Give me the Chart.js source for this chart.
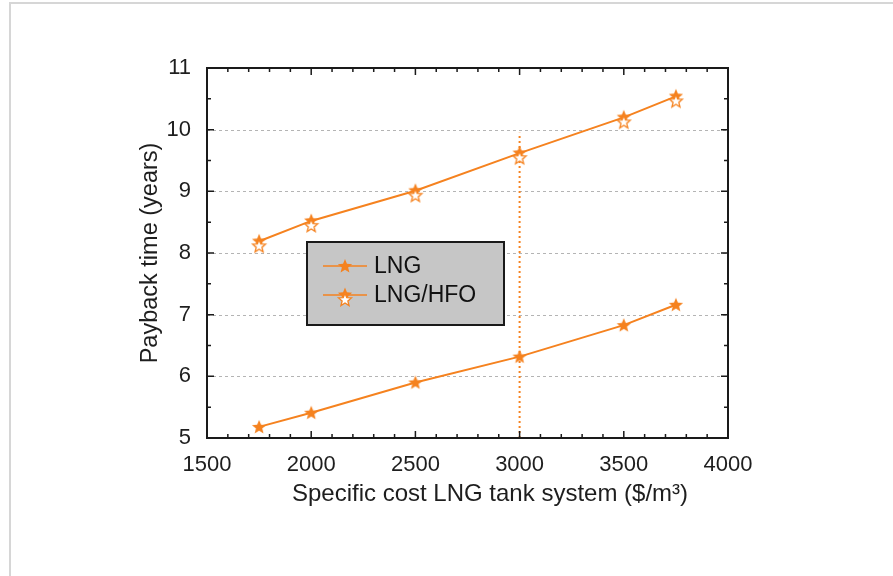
<!DOCTYPE html>
<html>
<head>
<meta charset="utf-8">
<title>Payback time vs. LNG tank system cost</title>
<script src="https://cdn.jsdelivr.net/npm/chart.js@4.4.1/dist/chart.umd.min.js"></script>
<style>
  html, body { margin: 0; padding: 0; background: #fff; overflow: hidden; }
  #frame { position: absolute; left: 9px; top: 2px; width: 900px; height: 600px;
           border-top: 2px solid #d6d6d6; border-left: 2px solid #d6d6d6; }
  #wrap { position: absolute; left: 0; top: 0; width: 893px; height: 576px; }
</style>
</head>
<body>
<div id="frame"></div>
<div id="wrap"><canvas id="c" width="893" height="576"></canvas></div>
<script>
// Specific cost of the LNG tank system ($/m3)
const costs = [1750, 2000, 2500, 3000, 3500, 3750];
// Payback time (years)
const paybackLNG = [5.18, 5.41, 5.90, 6.32, 6.83, 7.16];
const paybackLNGHFO = [8.19, 8.52, 9.01, 9.62, 10.20, 10.54];
// Reference cost marker (vertical dotted line)
const refCost = [3000, 3000];
const refPayback = [5, 9.95];
// Axis ticks
const xTicks = [1500, 2000, 2500, 3000, 3500, 4000];
const yTicks = [5, 6, 7, 8, 9, 10, 11];
const seriesNames = ['LNG', 'LNG/HFO'];

const ORANGE = '#f5821f';
const FONT = '"Liberation Sans", Arial, Helvetica, sans-serif';
const TEXT = '#1e1e1e';

function starPath(ctx, cx, cy, ro, ri) {
  ctx.beginPath();
  for (let i = 0; i < 10; i++) {
    const r = i % 2 === 0 ? ro : ri;
    const a = -Math.PI / 2 + i * Math.PI / 5;
    const px = cx + r * Math.cos(a), py = cy + r * Math.sin(a);
    if (i === 0) ctx.moveTo(px, py); else ctx.lineTo(px, py);
  }
  ctx.closePath();
}

// Filled star marker
function makeFilledStar() {
  const c = document.createElement('canvas');
  c.width = 18; c.height = 18;
  const g = c.getContext('2d');
  starPath(g, 9, 9.5, 7.5, 3.3);
  g.fillStyle = ORANGE; g.fill();
  return c;
}
// Filled star with an open star overlapping just below it
function makeDoubleStar() {
  const c = document.createElement('canvas');
  c.width = 18; c.height = 28;
  const g = c.getContext('2d');
  starPath(g, 9, 14, 7.5, 3.3);
  g.fillStyle = ORANGE; g.fill();
  starPath(g, 9, 19, 6.8, 3.0);
  g.fillStyle = '#fff'; g.fill();
  g.lineWidth = 1.3; g.strokeStyle = ORANGE; g.stroke();
  return c;
}
const starFilled = makeFilledStar();
const starDouble = makeDoubleStar();

const toPoints = (xs, ys) => xs.map((x, i) => ({ x, y: ys[i] }));

// Dashed grid under the data
const gridPlugin = {
  id: 'dashedGrid',
  beforeDatasetsDraw(chart) {
    const { ctx, chartArea: a, scales: { y } } = chart;
    ctx.save();
    ctx.strokeStyle = '#b4b4b4';
    ctx.lineWidth = 1;
    ctx.setLineDash([3, 3]);
    yTicks.slice(1, -1).forEach(v => {
      const py = Math.round(y.getPixelForValue(v)) + 0.5;
      ctx.beginPath(); ctx.moveTo(a.left, py); ctx.lineTo(a.right, py); ctx.stroke();
    });
    ctx.restore();
  }
};

// Boxed frame with inward major/minor ticks on all four sides
const framePlugin = {
  id: 'boxFrame',
  afterDatasetsDraw(chart) {
    const { ctx, chartArea: a, scales: { x, y } } = chart;
    ctx.save();
    ctx.strokeStyle = '#1a1a1a';
    ctx.lineWidth = 1.5;
    for (let v = x.min; v <= x.max + 1e-6; v += 100) {
      const px = x.getPixelForValue(v);
      const len = (v % 500 === 0) ? 7 : 4;
      ctx.beginPath();
      ctx.moveTo(px, a.bottom); ctx.lineTo(px, a.bottom - len);
      ctx.moveTo(px, a.top); ctx.lineTo(px, a.top + len);
      ctx.stroke();
    }
    for (let v = y.min; v <= y.max + 1e-6; v += 0.5) {
      const py = y.getPixelForValue(v);
      const len = (Math.abs(v - Math.round(v)) < 1e-6) ? 7 : 4;
      ctx.beginPath();
      ctx.moveTo(a.left, py); ctx.lineTo(a.left + len, py);
      ctx.moveTo(a.right, py); ctx.lineTo(a.right - len, py);
      ctx.stroke();
    }
    ctx.lineWidth = 2;
    ctx.strokeRect(a.left, a.top, a.right - a.left, a.bottom - a.top);
    ctx.restore();
  }
};

// Boxed legend and the x axis title
const legendPlugin = {
  id: 'boxLegend',
  afterDraw(chart) {
    const { ctx } = chart;
    ctx.save();
    const bx = 307, by = 242, bw = 197, bh = 83;
    ctx.fillStyle = '#c6c6c6';
    ctx.fillRect(bx, by, bw, bh);
    ctx.strokeStyle = '#1a1a1a';
    ctx.lineWidth = 2;
    ctx.strokeRect(bx, by, bw, bh);
    const rows = [266, 295];
    const marks = [starFilled, starDouble];
    ctx.font = '23px ' + FONT;
    ctx.textBaseline = 'middle';
    ctx.textAlign = 'left';
    chart.data.datasets.slice(0, 2).forEach((ds, i) => {
      const ry = rows[i];
      ctx.strokeStyle = ORANGE; ctx.lineWidth = 1.5;
      ctx.beginPath(); ctx.moveTo(323, ry); ctx.lineTo(367, ry); ctx.stroke();
      const m = marks[i];
      ctx.drawImage(m, 345 - m.width / 2, ry - m.height / 2);
      ctx.fillStyle = '#111';
      ctx.fillText(ds.label, 374, ry + 1);
    });
    // x axis title
    ctx.fillStyle = TEXT;
    ctx.textAlign = 'center';
    ctx.font = '24px ' + FONT;
    ctx.fillText('Specific cost LNG tank system ($/m\u00B3)', 490, 494);
    ctx.restore();
  }
};

new Chart(document.getElementById('c'), {
  type: 'line',
  data: {
    datasets: [
      {
        label: seriesNames[0],
        data: toPoints(costs, paybackLNG),
        borderColor: ORANGE, borderWidth: 2,
        pointStyle: starFilled, pointRadius: 7,
        backgroundColor: ORANGE, tension: 0
      },
      {
        label: seriesNames[1],
        data: toPoints(costs, paybackLNGHFO),
        borderColor: ORANGE, borderWidth: 2,
        pointStyle: starDouble, pointRadius: 7,
        backgroundColor: ORANGE, tension: 0
      },
      {
        label: 'ref',
        data: toPoints(refCost, refPayback),
        borderColor: ORANGE, borderWidth: 2,
        borderDash: [2, 3], pointRadius: 0
      }
    ]
  },
  options: {
    responsive: false,
    animation: false,
    events: [],
    layout: { padding: { left: 0, top: 68, right: 165, bottom: 0 } },
    plugins: { legend: { display: false }, tooltip: { enabled: false } },
    scales: {
      x: {
        type: 'linear', min: 1500, max: 4000,
        afterBuildTicks: s => { s.ticks = xTicks.map(v => ({ value: v })); },
        afterFit: s => { s.height = 138; },
        grid: { display: false, drawTicks: false, tickLength: 0 },
        border: { display: false },
        ticks: { color: TEXT, font: { family: FONT, size: 22 }, padding: 14,
                 maxRotation: 0, callback: v => String(v) }
      },
      y: {
        type: 'linear', min: 5, max: 11,
        afterBuildTicks: s => { s.ticks = yTicks.map(v => ({ value: v })); },
        afterFit: s => { s.width = 207; },
        grid: { display: false, drawTicks: false, tickLength: 0 },
        border: { display: false },
        ticks: { color: TEXT, font: { family: FONT, size: 22 }, padding: 16,
                 callback: v => String(v) },
        title: { display: true, text: 'Payback time (years)', color: TEXT,
                 font: { family: FONT, size: 23.5 }, padding: { top: 136, bottom: 0 } }
      }
    }
  },
  plugins: [gridPlugin, framePlugin, legendPlugin]
});
</script>
</body>
</html>
